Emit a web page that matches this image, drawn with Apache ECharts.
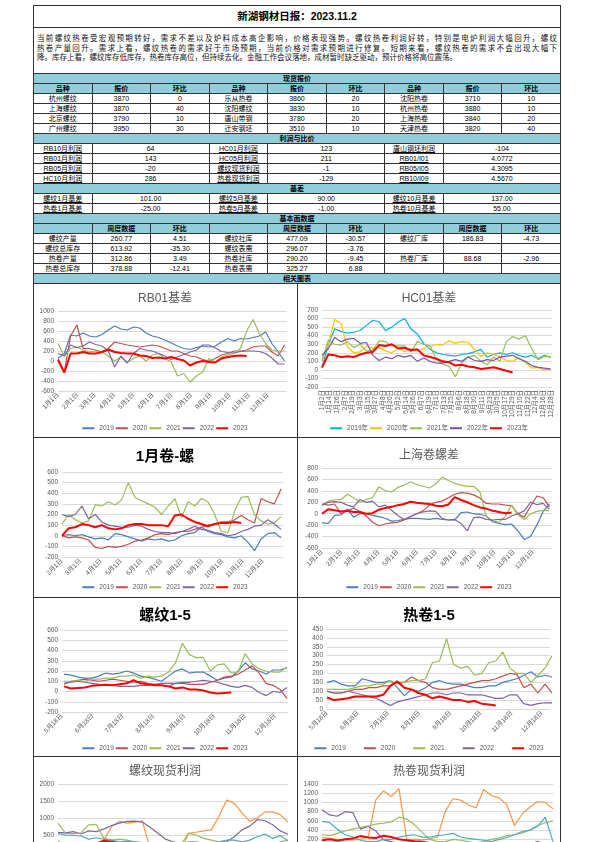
<!DOCTYPE html>
<html><head><meta charset="utf-8">
<script src="https://cdn.jsdelivr.net/npm/echarts@6/dist/echarts.min.js"></script>
<style>
*{box-sizing:border-box}
html,body{margin:0;padding:0;width:595px;height:842px;overflow:hidden;background:#fff}
body{position:relative;font-family:"Liberation Sans","Noto Sans CJK SC",sans-serif;color:#000}
.abs{position:absolute}
#title{left:33px;top:5px;width:528px;height:23px;border:1px solid #333;text-align:center;font-weight:bold;font-size:10.5px;line-height:21px;font-family:"Liberation Sans","Noto Sans CJK SC",sans-serif}
#para{left:33px;top:27px;width:528px;height:47px;border-left:1px solid #333;border-right:1px solid #333;padding:6px 3px 0 3px;font-size:7.5px;line-height:9.5px;font-family:"Noto Sans CJK SC",sans-serif;color:#111}
#para div{white-space:nowrap;height:9.5px}
#para .j{text-align:justify;text-align-last:justify}
#tbl{position:absolute;left:33px;top:73px;width:528px;border-collapse:collapse;table-layout:fixed;font-size:7px}
#tbl td{border:1px solid #333;height:10px;padding:0;line-height:8px;text-align:center;white-space:nowrap;overflow:hidden}
#tbl tr.b td{background:#92cddc;font-weight:bold}
#tbl td.u{text-decoration:underline}
.ln{position:absolute;background:#333}
</style></head>
<body>
<div id="title" class="abs"></div>
<div id="para" class="abs"></div>
<table id="tbl"></table>
<div class="ln" style="left:33px;top:283px;width:1px;height:600px"></div>
<div class="ln" style="left:560px;top:283px;width:1px;height:600px"></div>
<div class="ln" style="left:297px;top:283px;width:1px;height:600px"></div>
<div class="ln" style="left:33px;top:437px;width:528px;height:1px"></div>
<div class="ln" style="left:33px;top:597px;width:528px;height:1px"></div>
<div class="ln" style="left:33px;top:756px;width:528px;height:1px"></div>
<div id="c1" class="abs" style="left:34px;top:284px;width:262px;height:153px"></div>
<div id="c2" class="abs" style="left:298px;top:284px;width:262px;height:153px"></div>
<div id="c3" class="abs" style="left:34px;top:439px;width:262px;height:157px"></div>
<div id="c4" class="abs" style="left:298px;top:439px;width:262px;height:157px"></div>
<div id="c5" class="abs" style="left:34px;top:598px;width:262px;height:158px"></div>
<div id="c6" class="abs" style="left:298px;top:598px;width:262px;height:158px"></div>
<div id="c7" class="abs" style="left:34px;top:757px;width:262px;height:175px"></div>
<div id="c8" class="abs" style="left:298px;top:757px;width:262px;height:175px"></div>
<script>
// ---------- text ----------
const reportTitle = '新湖钢材日报：2023.11.2';
const paraLines = [
  '当前螺纹热卷受宏观预期转好，需求不差以及炉料成本高企影响，价格表现强势。螺纹热卷利润好转，特别是电炉利润大幅回升，螺纹',
  '热卷产量回升。需求上看，螺纹热卷的需求好于市场预期，当前价格对需求预期进行修复。短期来看，螺纹热卷的需求不会出现大幅下',
  '降。库存上看，螺纹库存低库存，热卷库存高位，但持续去化。金融工作会议落地，成材暂时缺乏驱动，预计价格将高位震荡。'
];
// ---------- tables ----------
const spotHead = ['品种','报价','环比'];
const spotRows = [
  ['杭州螺纹','3870','0','乐从热卷','3860','20','沈阳热卷','3710','10'],
  ['上海螺纹','3870','40','沈阳螺纹','3830','10','杭州热卷','3880','10'],
  ['北京螺纹','3790','10','唐山带钢','3780','20','上海热卷','3840','20'],
  ['广州螺纹','3950','30','迁安钢坯','3510','10','天津热卷','3820','40']
];
const profitRows = [
  ['RB10月利润','64','HC01月利润','123','唐山钢坯利润','-104'],
  ['RB01月利润','143','HC05月利润','211','RB01/I01','4.0772'],
  ['RB05月利润','-20','螺纹现货利润','-1','RB05/I05','4.3095'],
  ['HC10月利润','286','热卷现货利润','-129','RB10/I09','4.5670']
];
const basisRows = [
  ['螺纹1月基差','101.00','螺纹5月基差','90.00','螺纹10月基差','137.00'],
  ['热卷1月基差','-25.00','热卷5月基差','-1.00','热卷10月基差','55.00']
];
const fundHead = ['','周度数据','环比'];
const fundRows = [
  ['螺纹产量','260.77','4.51','螺纹社库','477.09','-30.57','螺纹厂库','186.83','-4.73'],
  ['螺纹总库存','613.92','-35.30','螺纹表需','296.07','-3.76','','',''],
  ['热卷产量','312.86','3.49','热卷社库','290.20','-9.45','热卷厂库','88.68','-2.96'],
  ['热卷总库存','378.88','-12.41','热卷表需','325.27','6.88','','','']
];
const bands = ['现货报价','利润与比价','基差','基本面数据','相关图表'];

// ---------- chart data ----------
const years = ['2019','2020','2021','2022','2023'];
const yearsCN = ['2019年','2020年','2021年','2022年','2023年'];
// RB01基差 (every 10 days from 1月1日)
const rb01_2019 = [50,150,520,500,560,500,480,530,620,700,640,620,680,660,560,500,470,420,360,300,250,230,270,300,280,300,380,450,400,450,440,470,500,580,350,180,0];
const rb01_2020 = [0,-220,500,720,250,250,220,180,250,380,350,320,300,280,300,320,300,250,200,200,150,100,80,30,0,50,120,150,200,200,220,280,300,300,180,100,320];
const rb01_2021 = [350,100,250,280,220,180,200,180,100,0,80,-30,50,100,0,120,150,50,-20,-300,-250,-420,-300,-220,50,-20,80,120,150,250,600,830,550,350,220,200,200];
const rb01_2022 = [150,100,320,270,300,380,330,300,200,-120,100,-40,150,250,220,200,150,100,30,80,130,180,220,320,320,260,190,170,160,190,200,200,190,150,60,-60,-60];
const rb01_2023 = [30,-230,150,150,180,150,150,180,230,180,160,150,150,110,100,60,70,50,80,40,10,-90,-30,0,-20,-30,50,80,100,110,100];
const rb01Ticks = ['1月1日','2月1日','3月1日','4月1日','5月1日','6月1日','7月1日','8月1日','9月1日','10月1日','11月1日','12月1日'];
// HC01基差 (every 10 days from 1月2日)
const hc01_2019 = [20,300,480,450,430,440,460,520,580,560,460,500,560,600,480,420,310,240,200,180,170,160,180,190,210,240,150,180,200,180,200,170,150,170,130,170,150];
const hc01_2020 = [120,300,590,540,270,200,210,280,250,260,220,200,260,210,250,220,250,270,300,290,340,310,330,320,240,160,200,180,150,110,100,140,90,20,30,0,10];
const hc01_2021 = [100,350,300,290,330,260,300,220,230,340,330,280,280,280,210,330,300,280,120,70,40,-80,80,150,170,100,60,150,100,330,390,360,400,250,120,160,150];
const hc01_2022 = [170,250,380,330,360,370,310,320,170,110,150,130,170,150,170,100,140,100,80,80,100,120,100,150,110,100,120,110,150,160,170,130,100,50,30,20,10];
const hc01_2023 = [30,180,170,150,160,150,180,200,210,290,280,300,250,260,230,240,170,150,130,100,90,50,60,40,30,10,20,30,10,-10,-30];
const hc01Ticks = ['1月2日','1月14日','1月26日','2月7日','2月19日','3月3日','3月15日','3月27日','4月8日','4月20日','5月2日','5月14日','5月26日','6月7日','6月19日','7月1日','7月13日','7月25日','8月6日','8月18日','8月30日','9月11日','9月23日','10月5日','10月17日','10月29日','11月10日','11月22日','12月4日','12月16日','12月28日'];
// 1月卷-螺 (every 10 days from 2月1日)
const cr_2019 = [0,10,0,10,-10,-30,-20,-40,20,10,-10,-30,-50,-30,-40,-30,-50,-40,0,20,30,80,40,20,10,-10,-20,0,-60,-140,-30,20,30,-20];
const cr_2020 = [0,-20,-10,-20,-40,-110,-120,-100,-110,-100,-80,-50,-40,-20,10,20,10,30,40,40,60,80,100,110,130,130,150,190,150,120,350,320,300,440];
const cr_2021 = [110,200,150,120,140,290,280,320,290,340,500,360,330,300,270,200,280,350,170,320,280,350,320,200,40,30,230,360,370,200,140,110,120,180];
const cr_2022 = [200,180,200,280,160,200,130,100,90,80,80,100,90,60,40,30,30,20,40,60,90,60,50,30,20,0,10,40,60,90,100,150,110,60];
const cr_2023 = [0,70,80,110,100,80,100,70,60,70,100,110,110,100,100,100,90,190,200,160,130,110,90,110,120,120,130,120];
const crTicks = ['2月1日','3月1日','4月1日','5月1日','6月1日','7月1日','8月1日','9月1日','10月1日','11月1日','12月1日'];
// 上海卷螺差 (every 10 days from 1月1日)
const sh_2019 = [-160,-170,-30,-20,80,-60,0,0,-30,-50,-80,-130,-120,-100,-80,-80,-90,-100,-80,-100,-110,-110,20,30,0,-10,-40,-140,-170,-190,-180,-300,-450,-400,-200,40,170];
const sh_2020 = [170,150,170,0,50,100,40,-40,-150,-210,-180,-160,-150,-110,-50,0,50,150,200,220,280,340,370,360,330,270,180,170,170,150,140,0,-60,130,310,280,120];
const sh_2021 = [150,220,240,250,340,280,200,250,280,470,400,380,460,500,560,510,480,450,520,640,580,530,500,480,480,380,-50,-120,-150,-50,150,-20,-100,0,40,60,50];
const sh_2022 = [150,200,210,200,150,120,250,200,220,120,150,60,-30,-100,-50,0,30,50,40,-80,-110,-100,-170,-300,-70,-60,-100,-110,-100,-100,-40,0,50,200,160,180,80];
const sh_2023 = [0,80,60,40,50,30,30,0,10,70,100,120,150,170,210,190,180,170,140,130,160,290,240,200,150,110,90,50,30,10,20];
const shTicks = rb01Ticks;
// 螺纹1-5 (every 7 days from 5月20日)
const rb15_2019 = [170,160,140,130,130,150,180,170,180,200,180,150,140,120,100,150,200,220,180,190,190,150,110,130,140,200,280,220,200,170,210,210,230];
const rb15_2020 = [70,100,110,120,110,100,110,120,110,100,90,100,80,70,60,50,80,80,70,70,70,90,110,140,150,170,210,250,180,80,60,20,-70];
const rb15_2021 = [100,100,110,100,120,120,130,130,150,150,160,130,150,140,150,190,280,470,360,330,330,200,260,270,180,190,370,270,220,200,190,190,240];
const rb15_2022 = [80,90,100,90,80,70,60,60,50,50,50,60,60,70,80,80,80,90,90,100,110,100,90,70,50,40,60,40,-10,-40,0,-10,40];
const rb15_2023 = [50,30,35,40,55,60,65,60,70,80,110,80,70,60,60,50,30,40,20,20,10,-10,-20,-15,-10];
const spreadTicks = ['5月18日','6月18日','7月18日','8月18日','9月18日','10月18日','11月18日','12月18日'];
// 热卷1-5 (every 7 days from 5月18日)
const hc15_2019 = [150,160,140,130,130,170,160,150,150,160,120,75,110,100,120,150,160,145,140,140,130,120,120,130,130,150,160,170,190,210,180,190,180];
const hc15_2020 = [100,90,90,100,110,110,120,120,130,130,150,150,180,160,150,120,110,110,120,130,140,150,160,160,170,185,200,195,120,140,90,140,90];
const hc15_2021 = [110,110,110,110,120,130,130,140,140,160,140,150,160,160,170,260,270,395,250,230,240,190,200,260,270,320,230,200,200,150,190,230,300];
const hc15_2022 = [100,90,90,100,90,80,70,60,40,20,40,50,60,70,80,90,90,80,90,90,80,80,80,70,60,60,80,80,30,20,30,35,35];
const hc15_2023 = [65,50,55,60,70,70,70,70,80,130,155,120,110,90,80,60,70,60,50,50,40,45,30,25,20];
// 螺纹现货利润 (upper part visible)
const rp_a = [320,200,100,0,50,150,350,750,900,850,880,920,100,0,-100,-100,0,550,580,620,650,1050,1530,1430,1150,900,1000,1180,1180,1100,880];
const rp_b = [580,560,600,530,620,600,680,780,850,900,910,880,730,560,380,300,250,250,200,250,250,280,300,450,650,760,950,920,800,620,520];
const rp_c = [850,550,540,560,800,810,400,350,380,350,300,280,250,200,150,150,200,550,500,400,350,300,250,200,150,100,150,200,250,300,350];
const rp_d = [550,500,490,470,380,420,380,350,300,320,300,280,250,200,200,250,250,300,300,250,200,300,350,350,300,350,450,530,400,480,330];
const rp_e = [200,150,100,150,200,250,330,300,250,200,150,100,150,100,50,0,-50,0,50,100,50,0,-50,0,50,0];
// 热卷现货利润 (upper part visible)
const hp_a = [240,220,200,180,190,200,250,1060,1250,1130,1300,200,200,190,210,250,800,1080,1050,950,880,1280,1150,1100,950,500,750,900,1020,1000,860];
const hp_b = [840,730,700,800,780,420,480,380,190,150,100,50,0,-50,-50,0,50,100,80,50,0,-50,-100,-80,-50,0,50,100,150,100,50];
const hp_c = [300,280,330,380,420,460,490,530,550,580,680,640,520,350,200,150,150,200,180,150,120,150,200,230,280,300,340,400,500,560,600];
const hp_d = [590,560,420,300,250,180,150,150,200,200,250,280,300,250,250,280,300,330,250,220,200,180,150,200,240,300,370,400,480,680,150];
const hp_e = [180,200,170,200,220,270,240,230,280,250,200,180,160,150,120,100,80,50,60,30,20,0,-30,-60,-100,-129];

// ---------- build text/table ----------
document.getElementById('title').textContent = reportTitle;
document.getElementById('para').innerHTML = paraLines.map((t,i)=>`<div class="${i<2?'j':''}">${t}</div>`).join('');
const T = ['<colgroup>' + '<col>'.repeat(9) + '</colgroup>'];
const band = t => `<tr class="b"><td colspan="9">${t}</td></tr>`;
T.push(band(bands[0]));
T.push('<tr class="b">' + [0,1,2].map(()=>spotHead.map(h=>`<td>${h}</td>`).join('')).join('') + '</tr>');
spotRows.forEach(r=>T.push('<tr>' + r.map(v=>`<td>${v}</td>`).join('') + '</tr>'));
T.push(band(bands[1]));
profitRows.forEach(r=>T.push('<tr>' + [0,2,4].map(k=>`<td class="u">${r[k]}</td><td colspan="2">${r[k+1]}</td>`).join('') + '</tr>'));
T.push(band(bands[2]));
basisRows.forEach(r=>T.push('<tr>' + [0,2,4].map(k=>`<td class="u">${r[k]}</td><td colspan="2">${r[k+1]}</td>`).join('') + '</tr>'));
T.push(band(bands[3]));
T.push('<tr class="b">' + [0,1,2].map(()=>fundHead.map(h=>`<td>${h}</td>`).join('')).join('') + '</tr>');
fundRows.forEach(r=>T.push('<tr>' + r.map(v=>`<td>${v}</td>`).join('') + '</tr>'));
T.push(band(bands[4]));
document.getElementById('tbl').innerHTML = T.join('');

// ---------- charts ----------
const MONTH_START = [0,31,59,90,120,151,181,212,243,273,304,334];
function dayOfYear(lbl){ const m = lbl.match(/(\d+)月(\d+)日/); return MONTH_START[+m[1]-1] + (+m[2]); }
const FONT = '"Liberation Sans","Noto Sans CJK SC",sans-serif';
const GREY = '#595959';

function makeChart(id, o){
  const chart = echarts.init(document.getElementById(id));
  const tickDays = o.ticks ? o.ticks.map(dayOfYear) : [];
  const lbl = {}; if (o.ticks) o.ticks.forEach(t=>{ lbl[dayOfYear(t)] = t; });
  chart.setOption({
    animation:false,
    textStyle:{fontFamily:FONT},
    title:{text:o.title, left:'center', top:o.titleTop,
      textStyle:{fontFamily:FONT, fontSize:o.bold?15:12, fontWeight:o.bold?'bold':'normal', color:o.bold?'#000':GREY}},
    legend:{show:o.legendTop!=null, top:o.legendTop, left:'center', padding:0, icon:'rect', itemWidth:12, itemHeight:2,
      itemGap:o.legendGap, textStyle:{fontSize:6.5, color:GREY, fontFamily:FONT}, data:o.names},
    grid:{left:o.grid[0], top:o.grid[1], width:o.grid[2], height:o.grid[3]},
    xAxis:{type:'value', min:o.xmin, max:o.xmax, axisLine:{show:false}, axisTick:{show:false}, splitLine:{show:false},
      axisLabel: o.ticks ? {customValues:tickDays, formatter:v=>lbl[Math.round(v)]||'', rotate:o.rotate,
        fontSize:6.5, color:GREY, margin:3, fontFamily:FONT} : {show:false}},
    yAxis:{type:'value', min:o.ymin, max:o.ymax, interval:o.yint, axisLine:{show:false}, axisTick:{show:false},
      splitLine:{lineStyle:{color:'#d9d9d9', width:1}},
      axisLabel:{fontSize:6.5, color:GREY, margin:4, fontFamily:FONT, formatter:v=>String(v)}},
    series:o.series.map((s,k)=>({name:o.names[k], type:'line', symbol:'none', showSymbol:false,
      lineStyle:{color:o.colors[k], width:k===4?2:1.2}, itemStyle:{color:o.colors[k]},
      data:s.map((v,i)=>[o.start + i*o.step, v])}))
  });
}
const C1 = ['#4a7ebb','#c0504d','#9bbb59','#8064a2','#ff0000'];
const C2 = ['#00b0f0','#ffc000','#92c050','#7b52a8','#ff0000'];
const C3 = ['#f79646','#8064a2','#9bbb59','#4bacc6','#ff0000'];

makeChart('c1',{title:'RB01基差', titleTop:4, names:years, colors:C1, series:[rb01_2019,rb01_2020,rb01_2021,rb01_2022,rb01_2023],
  start:1, step:10, xmin:1, xmax:365, ticks:rb01Ticks, rotate:45, ymin:-600, ymax:1000, yint:200,
  grid:[24,27,229,80], legendTop:141, legendGap:2});
makeChart('c2',{title:'HC01基差', titleTop:4, names:yearsCN, colors:C2, series:[hc01_2019,hc01_2020,hc01_2021,hc01_2022,hc01_2023],
  start:2, step:10, xmin:2, xmax:364, ticks:hc01Ticks, rotate:90, ymin:-200, ymax:700, yint:100,
  grid:[24,26,230,77], legendTop:141, legendGap:2});
makeChart('c3',{title:'1月卷-螺', bold:true, titleTop:5, names:years, colors:C1, series:[cr_2019,cr_2020,cr_2021,cr_2022,cr_2023],
  start:32, step:10, xmin:32, xmax:365, ticks:crTicks, rotate:45, ymin:-200, ymax:600, yint:100,
  grid:[28,33,221,85], legendTop:145, legendGap:2});
makeChart('c4',{title:'上海卷螺差', titleTop:6, names:years, colors:C1, series:[sh_2019,sh_2020,sh_2021,sh_2022,sh_2023],
  start:1, step:10, xmin:1, xmax:365, ticks:shTicks, rotate:45, ymin:-600, ymax:800, yint:200,
  grid:[24,29,230,80], legendTop:145, legendGap:2});
makeChart('c5',{title:'螺纹1-5', bold:true, titleTop:5, names:years, colors:C1, series:[rb15_2019,rb15_2020,rb15_2021,rb15_2022,rb15_2023],
  start:140, step:7, xmin:138, xmax:365, ticks:spreadTicks, rotate:45, ymin:-200, ymax:600, yint:100,
  grid:[28,32,226,82], legendTop:147, legendGap:2});
makeChart('c6',{title:'热卷1-5', bold:true, titleTop:5, names:years, colors:C1, series:[hc15_2019,hc15_2020,hc15_2021,hc15_2022,hc15_2023],
  start:138, step:7, xmin:138, xmax:360, ticks:spreadTicks, rotate:45, ymin:0, ymax:450, yint:50,
  grid:[29,31,223,80], legendTop:147, legendGap:18});
makeChart('c7',{title:'螺纹现货利润', titleTop:4, names:years, colors:C3, series:[rp_a,rp_b,rp_c,rp_d,rp_e],
  start:0, step:1, xmin:0, xmax:30, ymin:-500, ymax:2000, yint:500, grid:[24,27,230,85]});
makeChart('c8',{title:'热卷现货利润', titleTop:4, names:years, colors:C3, series:[hp_a,hp_b,hp_c,hp_d,hp_e],
  start:0, step:1, xmin:0, xmax:30, ymin:-400, ymax:1400, yint:200, grid:[24,27,231,83]});
</script>
</body></html>
